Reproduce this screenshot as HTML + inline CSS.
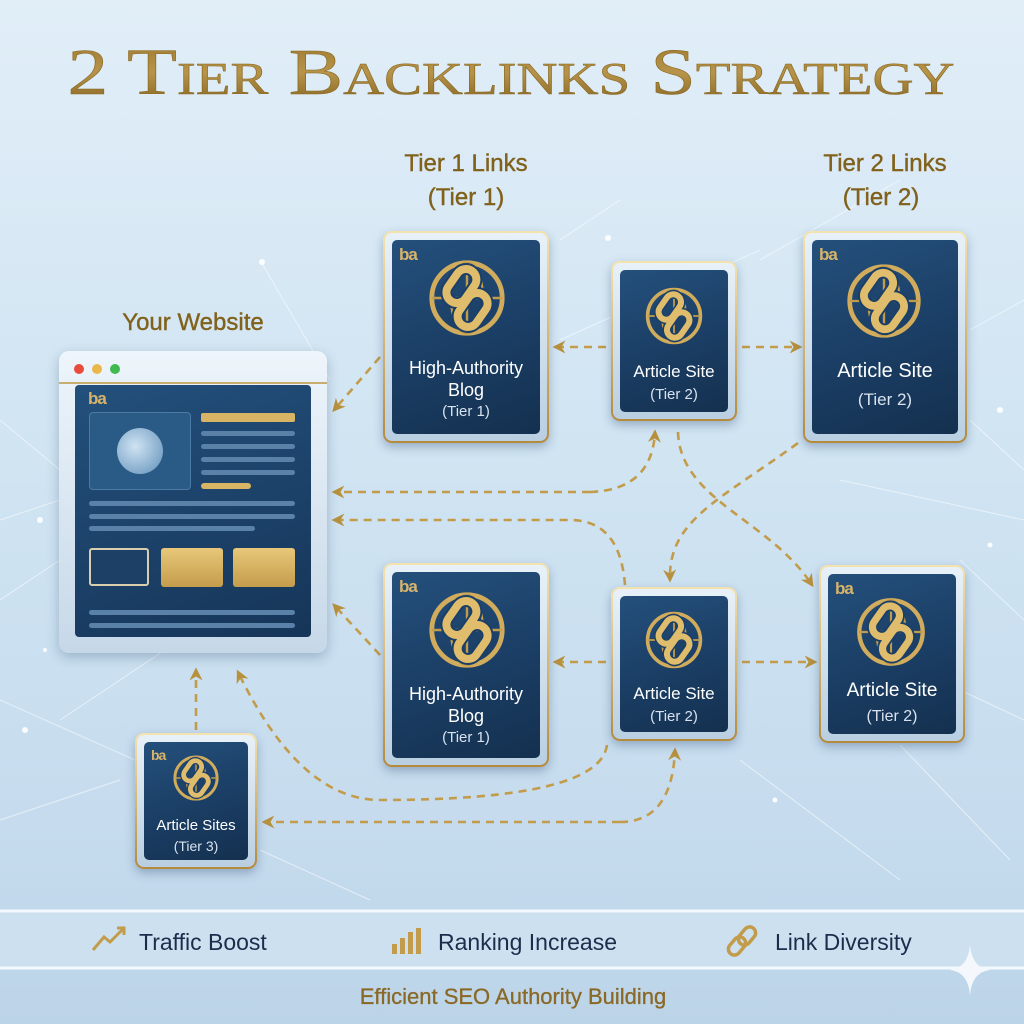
<!DOCTYPE html>
<html><head><meta charset="utf-8"><style>
html,body{margin:0;padding:0}
body{width:1024px;height:1024px;overflow:hidden;background:linear-gradient(180deg,#e1eef8 0%,#d0e4f2 45%,#c6dcee 80%,#bcd4e8 100%);position:relative;font-family:"Liberation Sans",sans-serif}
.card{position:absolute;border-radius:9px;background:linear-gradient(180deg,#f4e3ae,#b58a3a);padding:2px;box-shadow:0 4px 10px rgba(40,70,110,.35)}
.card .mid{width:100%;height:100%;box-sizing:border-box;border-radius:7px;background:linear-gradient(180deg,#e8f1f8,#b9cfe2);padding:7px}
.card .in{width:100%;height:100%;box-sizing:border-box;border-radius:5px;background:linear-gradient(160deg,#24507c 0%,#1b3f66 50%,#14304f 100%);position:relative;color:#fff;text-align:center}
.ba{position:absolute;left:7px;top:5px;color:#d8b46a;font-size:17px;font-weight:bold;letter-spacing:-1px}
.t1{position:absolute;left:0;right:0;color:#fff}
.t2{position:absolute;left:0;right:0;color:#d9e3ef}
</style></head><body>
<svg width="1024" height="1024" style="position:absolute;left:0;top:0">
<defs>
<linearGradient id="g" x1="0" y1="0" x2="0" y2="1"><stop offset="0" stop-color="#9a772c"/><stop offset=".5" stop-color="#b8944a"/><stop offset="1" stop-color="#7d5e1e"/></linearGradient>
<marker id="ar" viewBox="0 0 10 10" refX="8" refY="5" markerWidth="5" markerHeight="5" orient="auto-start-reverse"><path d="M0,0 L10,5 L0,10 L3,5z" fill="#b8913e"/></marker>
</defs>
<g stroke="#fff" stroke-opacity=".55" stroke-width="1" fill="none">
<path d="M0,420 L60,470 M0,520 L60,500 M0,600 L60,560 M0,700 L135,760 M330,380 L260,260 M560,240 L620,200 M760,260 L900,180 M970,330 L1024,300 M970,420 L1024,470 M840,480 L1024,520 M960,560 L1024,620 M960,690 L1024,720 M900,745 L1010,860 M260,850 L370,900 M740,760 L900,880 M300,560 L60,720 M0,820 L120,780 M560,340 L760,250"/>
</g>
<g fill="#fff" opacity=".9"><circle cx="262" cy="262" r="3"/><circle cx="40" cy="520" r="3"/><circle cx="1000" cy="410" r="3"/><circle cx="990" cy="545" r="2.5"/><circle cx="25" cy="730" r="3"/><circle cx="45" cy="650" r="2"/><circle cx="775" cy="800" r="2.5"/><circle cx="608" cy="238" r="3"/></g>
<text x="511" y="94" text-anchor="middle" font-family="Liberation Serif,serif" font-size="66" fill="url(#g)" stroke="#8a6a22" stroke-width=".6" style="font-variant:small-caps" textLength="887" lengthAdjust="spacingAndGlyphs">2 Tier Backlinks Strategy</text>
<g font-family="Liberation Sans,sans-serif" font-size="24" fill="#80621c" text-anchor="middle" stroke="#80621c" stroke-width=".4">
<text x="193" y="330">Your Website</text>
<text x="466" y="171">Tier 1 Links</text><text x="466" y="205">(Tier 1)</text>
<text x="885" y="171">Tier 2 Links</text><text x="881" y="205">(Tier 2)</text>
</g>
<g stroke="#c29c4b" stroke-width="2.6" stroke-dasharray="8 6" fill="none" marker-end="url(#ar)">
<path d="M380,357 L334,410"/>
<path d="M606,347 L555,347"/>
<path d="M742,347 L800,347"/>
<path d="M590,492 L334,492"/>
<path d="M590,492 Q652,490 655,432"/>
<path d="M625,585 Q620,520 570,520 L334,520"/>
<path d="M678,432 C680,500 770,520 812,585"/>
<path d="M798,443 C720,500 668,520 670,580"/>
<path d="M380,655 L334,605"/>
<path d="M606,662 L555,662"/>
<path d="M742,662 L815,662"/>
<path d="M196,730 L196,670"/>
<path d="M607,745 Q600,800 380,800 Q300,800 238,672"/>
<path d="M620,822 L264,822"/>
<path d="M620,822 Q672,822 675,750"/>
</g>
<line x1="0" y1="911" x2="1024" y2="911" stroke="#f4f9fd" stroke-width="3"/>
<line x1="0" y1="968" x2="1024" y2="968" stroke="#f4f9fd" stroke-width="3"/>
<rect x="0" y="912" width="1024" height="55" fill="#e6f0f8" opacity=".35"/>
<path d="M970,945 Q972,968 990,970 Q972,972 970,995 Q968,972 950,970 Q968,968 970,945z" fill="#f4f8fc"/>
<g font-family="Liberation Sans,sans-serif" font-size="23" fill="#1c2d4c">
<text x="139" y="950">Traffic Boost</text><text x="438" y="950">Ranking Increase</text><text x="775" y="950">Link Diversity</text>
</g>
<text x="513" y="1004" text-anchor="middle" font-family="Liberation Sans,sans-serif" font-size="22" fill="#8a6826" stroke="#8a6826" stroke-width=".3">Efficient SEO Authority Building</text>
<g stroke="#c29c4b" stroke-width="3" fill="none"><path d="M93,950 L104,937 L110,942 L124,928 M117,928 L124,928 L124,935"/></g>
<g fill="#c29c4b"><rect x="392" y="944" width="5" height="10"/><rect x="400" y="938" width="5" height="16"/><rect x="408" y="932" width="5" height="22"/><rect x="416" y="928" width="5" height="26"/></g>
<g stroke="#c29c4b" stroke-width="3.5" fill="none"><rect x="731" y="936" width="12" height="20" rx="6" transform="rotate(40 737 946)"/><rect x="741" y="926" width="12" height="20" rx="6" transform="rotate(40 747 936)"/></g>
<symbol id="ic" viewBox="0 0 100 100">
<circle cx="50" cy="50" r="44" fill="none" stroke="#d1ac5c" stroke-width="6"/>
<g stroke="#c29c4b" stroke-width="3" fill="none"><ellipse cx="50" cy="50" rx="20" ry="44"/><line x1="6" y1="50" x2="94" y2="50"/><line x1="50" y1="6" x2="50" y2="94"/></g>
<g stroke="#1b3f66" stroke-width="15" fill="none"><rect x="30" y="12" width="26" height="46" rx="13" transform="rotate(35 43 35)"/><rect x="44" y="42" width="26" height="46" rx="13" transform="rotate(35 57 65)"/></g>
<g stroke="#e0bd6c" stroke-width="10" fill="none"><rect x="30" y="12" width="26" height="46" rx="13" transform="rotate(35 43 35)"/><rect x="44" y="42" width="26" height="46" rx="13" transform="rotate(35 57 65)"/></g>
</symbol>
</svg>

<div style="position:absolute;left:59px;top:351px;width:268px;height:302px;border-radius:10px;background:linear-gradient(180deg,#eef5fb,#c6d8e8);box-shadow:0 4px 12px rgba(40,70,110,.3)">
<div style="position:absolute;left:0;right:0;top:31px;height:2px;background:#c9ad6e"></div>
<div style="position:absolute;left:15px;top:13px;width:10px;height:10px;border-radius:50%;background:#e64b3c"></div>
<div style="position:absolute;left:33px;top:13px;width:10px;height:10px;border-radius:50%;background:#e8b84a"></div>
<div style="position:absolute;left:51px;top:13px;width:10px;height:10px;border-radius:50%;background:#3fb950"></div>
<div style="position:absolute;left:16px;top:34px;width:236px;height:252px;border-radius:4px;background:linear-gradient(160deg,#23507c,#163558)">
<div class="ba" style="left:13px;top:4px">ba</div>
<div style="position:absolute;left:14px;top:27px;width:100px;height:76px;border:1px solid #4c7aa3;border-radius:4px;background:#2a5a86"><div style="position:absolute;left:27px;top:15px;width:46px;height:46px;border-radius:50%;background:radial-gradient(circle at 40% 40%,#cfe3f3,#5f8fb8)"></div></div>
<div style="position:absolute;left:126px;top:28px;width:94px;height:9px;border-radius:2px;background:#d8b465"></div>
<div style="position:absolute;left:126px;top:46px;width:94px;height:5px;border-radius:3px;background:#5a82a8"></div>
<div style="position:absolute;left:126px;top:59px;width:94px;height:5px;border-radius:3px;background:#5a82a8"></div>
<div style="position:absolute;left:126px;top:72px;width:94px;height:5px;border-radius:3px;background:#5a82a8"></div>
<div style="position:absolute;left:126px;top:85px;width:94px;height:5px;border-radius:3px;background:#5a82a8"></div>
<div style="position:absolute;left:126px;top:98px;width:50px;height:6px;border-radius:3px;background:#d8b465"></div>
<div style="position:absolute;left:14px;top:116px;width:206px;height:5px;border-radius:3px;background:#5a82a8"></div>
<div style="position:absolute;left:14px;top:129px;width:206px;height:5px;border-radius:3px;background:#5a82a8"></div>
<div style="position:absolute;left:14px;top:141px;width:166px;height:5px;border-radius:3px;background:#5a82a8"></div>
<div style="position:absolute;left:14px;top:163px;width:60px;height:38px;border:2px solid #d9cfae;border-radius:3px;box-sizing:border-box;background:#1d4066"></div>
<div style="position:absolute;left:86px;top:163px;width:62px;height:39px;border-radius:3px;background:linear-gradient(180deg,#e8c87a,#c49c4c)"></div>
<div style="position:absolute;left:158px;top:163px;width:62px;height:39px;border-radius:3px;background:linear-gradient(180deg,#e8c87a,#c49c4c)"></div>
<div style="position:absolute;left:14px;top:225px;width:206px;height:5px;border-radius:3px;background:#5a82a8"></div>
<div style="position:absolute;left:14px;top:238px;width:206px;height:5px;border-radius:3px;background:#5a82a8"></div>
</div></div>

<div class="card" style="left:383px;top:231px;width:162px;height:208px"><div class="mid"><div class="in"><div class="ba">ba</div>
<svg style="position:absolute;left:35px;top:18px" width="80" height="80"><use href="#ic"/></svg>
<div class="t1" style="top:117px;font-size:18px;line-height:22px">High-Authority<br>Blog</div><div class="t2" style="top:163px;font-size:15px">(Tier 1)</div></div></div></div>

<div class="card" style="left:611px;top:261px;width:122px;height:156px"><div class="mid"><div class="in">
<svg style="position:absolute;left:24px;top:16px" width="60" height="60"><use href="#ic"/></svg>
<div class="t1" style="top:92px;font-size:17px">Article Site</div><div class="t2" style="top:116px;font-size:15px">(Tier 2)</div></div></div></div>

<div class="card" style="left:803px;top:231px;width:160px;height:208px"><div class="mid"><div class="in"><div class="ba">ba</div>
<svg style="position:absolute;left:33px;top:22px" width="78" height="78"><use href="#ic"/></svg>
<div class="t1" style="top:120px;font-size:20px">Article Site</div><div class="t2" style="top:150px;font-size:17px">(Tier 2)</div></div></div></div>

<div class="card" style="left:383px;top:563px;width:162px;height:200px"><div class="mid"><div class="in"><div class="ba">ba</div>
<svg style="position:absolute;left:35px;top:18px" width="80" height="80"><use href="#ic"/></svg>
<div class="t1" style="top:111px;font-size:18px;line-height:22px">High-Authority<br>Blog</div><div class="t2" style="top:157px;font-size:15px">(Tier 1)</div></div></div></div>

<div class="card" style="left:611px;top:587px;width:122px;height:150px"><div class="mid"><div class="in">
<svg style="position:absolute;left:24px;top:14px" width="60" height="60"><use href="#ic"/></svg>
<div class="t1" style="top:88px;font-size:17px">Article Site</div><div class="t2" style="top:112px;font-size:15px">(Tier 2)</div></div></div></div>

<div class="card" style="left:819px;top:565px;width:142px;height:174px"><div class="mid"><div class="in"><div class="ba">ba</div>
<svg style="position:absolute;left:27px;top:22px" width="72" height="72"><use href="#ic"/></svg>
<div class="t1" style="top:106px;font-size:19px">Article Site</div><div class="t2" style="top:134px;font-size:16px">(Tier 2)</div></div></div></div>

<div class="card" style="left:135px;top:733px;width:118px;height:132px"><div class="mid"><div class="in"><div class="ba" style="font-size:14px">ba</div>
<svg style="position:absolute;left:28px;top:12px" width="48" height="48"><use href="#ic"/></svg>
<div class="t1" style="top:75px;font-size:15px">Article Sites</div><div class="t2" style="top:96px;font-size:14px">(Tier 3)</div></div></div></div>
</body></html>
